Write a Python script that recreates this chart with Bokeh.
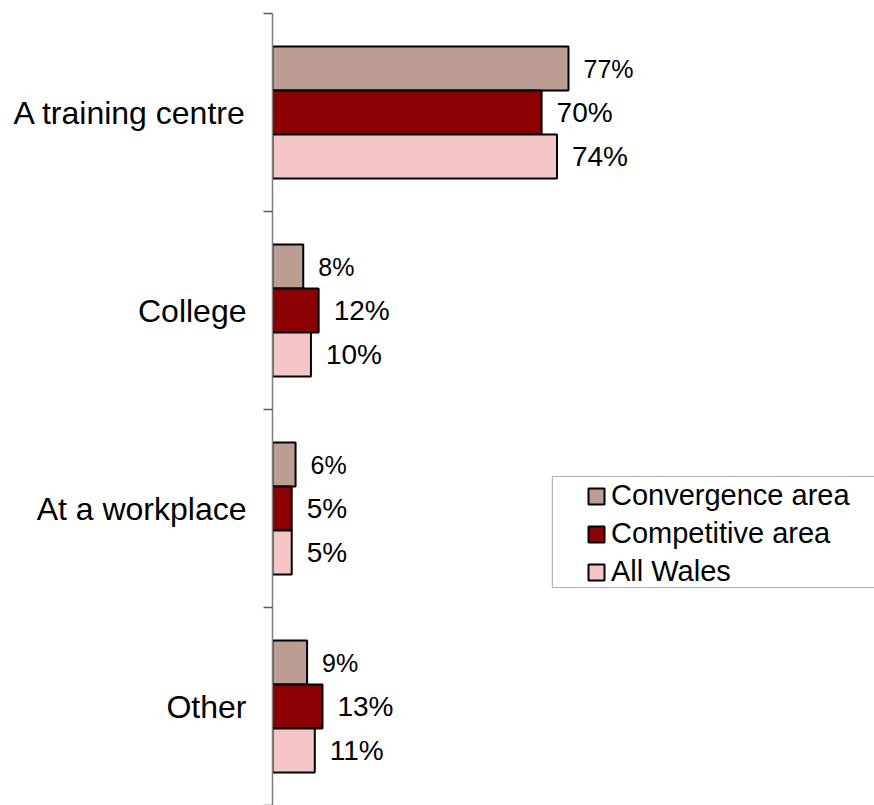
from bokeh.plotting import figure
from bokeh.models import FixedTicker, Legend, LegendItem, BoxAnnotation, Range1d
from bokeh.core.properties import value
from bokeh.embed import file_html
from bokeh.resources import INLINE

categories = ["A training centre", "College", "At a workplace", "Other"]
series_names = ["Convergence area", "Competitive area", "All Wales"]
convergence = [77, 8, 6, 9]
competitive = [70, 12, 5, 13]
all_wales = [74, 10, 5, 11]
series_values = [convergence, competitive, all_wales]
colors = ["#BB9D93", "#8B0000", "#F5C6C6"]
label_sizes = ["25px", "28px", "28px"]

n = len(categories)
centers = [2 * n - 1 - 2 * i for i in range(n)]
bar_h = 0.444
offsets = [bar_h, 0, -bar_h]

p = figure(width=874, height=805, output_backend="svg", toolbar_location=None,
           x_range=Range1d(0, 156.6), y_range=Range1d(0, 2 * n),
           min_border_left=272, min_border_top=13, min_border_bottom=0,
           min_border_right=0, x_axis_location=None)
p.outline_line_color = None
p.xgrid.visible = False
p.ygrid.visible = False

yax = p.yaxis[0]
yax.ticker = FixedTicker(ticks=centers, minor_ticks=list(range(0, 2 * n + 1, 2)))
yax.major_label_overrides = {c: name for c, name in zip(centers, categories)}
yax.axis_line_color = "#808080"
yax.axis_line_width = 1.5
yax.major_tick_out = 0
yax.major_tick_in = 0
yax.minor_tick_out = 9
yax.minor_tick_in = 0
yax.minor_tick_line_color = "#595959"
yax.minor_tick_line_width = 1.5
yax.major_label_text_font = "Liberation Sans"
yax.major_label_text_font_size = "32px"
yax.major_label_text_color = "black"
yax.major_label_standoff = 17

box = BoxAnnotation(left=72.8, right=175, top=3.323, bottom=2.202,
                    fill_color="white", fill_alpha=1, line_color="black", line_width=1.2)
p.add_layout(box)

items = []
for j, (name, vals, col) in enumerate(zip(series_names, series_values, colors)):
    ys = [c + offsets[j] for c in centers]
    r = p.hbar(y=ys, left=0, right=vals, height=bar_h, fill_color=col,
               line_color="black", line_width=2)
    p.text(x=vals, y=ys, text=[f"{v}%" for v in vals], x_offset=15,
           text_baseline="middle", text_align="left",
           text_font=value("Liberation Sans"), text_font_size=label_sizes[j],
           text_color="black")
    items.append(LegendItem(label=name, renderers=[r]))

legend = Legend(items=items, location=(314, 217), padding=0, spacing=5,
                glyph_width=20, glyph_height=20, label_standoff=5,
                border_line_color=None, background_fill_alpha=0,
                label_text_font="Liberation Sans", label_text_font_size="29px",
                label_text_color="black")
p.add_layout(legend, "center")

open("out.html", "w").write(file_html(p, INLINE))
